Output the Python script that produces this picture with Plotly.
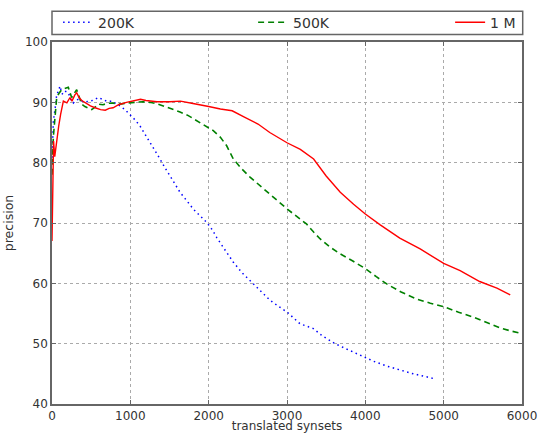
import plotly.graph_objects as go

# ---- data ----
x_200k = [0, 17, 40, 60, 80, 102, 125, 144, 175, 208, 240, 272, 300, 336, 380, 430, 485, 540, 591, 650,
          698, 762, 820, 868, 930, 996, 1060, 1123, 1190, 1251, 1315, 1379, 1440, 1506, 1570, 1634, 1720,
          1804, 1890, 1975, 2050, 2102, 2200, 2315, 2430, 2549, 2660, 2783, 2890, 3004, 3166, 3336, 3450,
          3613, 3780, 3932, 4102, 4270, 4443, 4613, 4783, 4877]
y_200k = [80, 86.9, 89, 91.3, 91.8, 92.7, 91.5, 91.3, 91.8, 91.6, 90.5, 89.9, 90.3, 90.5, 90.2, 90.1, 90.2,
          90.4, 90.8, 90.5, 90.2, 90.2, 89.8, 89.4, 88.8, 88.0, 87.1, 86.1, 84.7, 83.3, 82.0, 80.6, 79.2,
          77.8, 76.4, 75.1, 73.7, 72.3, 71.2, 70.1, 68.8, 67.6, 65.7, 63.5, 61.7, 60.2, 58.7, 57.2, 56.2,
          55.2, 53.3, 52.5, 51.3, 50.0, 49.0, 48.1, 47.1, 46.3, 45.6, 45.0, 44.5, 44.2]

x_500k = [0, 17, 38, 60, 90, 124, 160, 208, 251, 290, 315, 350, 379, 420, 464, 507, 550, 591, 650, 700,
          762, 868, 960, 1081, 1160, 1251, 1330, 1421, 1530, 1634, 1740, 1847, 1960, 2059, 2150, 2230,
          2315, 2420, 2528, 2640, 2741, 2870, 3004, 3130, 3252, 3340, 3421, 3550, 3677, 3840, 4005, 4140,
          4273, 4450, 4656, 4830, 5008, 5190, 5379, 5550, 5719, 5860, 5996]
y_500k = [78, 84.2, 87.5, 90.8, 91.5, 92.1, 92.3, 92.5, 90.8, 91.5, 92.1, 90.8, 89.7, 89.3, 89.1, 88.8,
          89.2, 89.7, 89.6, 89.8, 89.9, 89.7, 89.9, 90.05, 90.1, 90.0, 89.8, 89.4, 88.9, 88.4, 87.8, 87.0,
          86.1, 85.3, 84.2, 82.8, 80.6, 79.0, 77.6, 76.4, 75.3, 73.8, 72.3, 71.0, 69.8, 68.5, 67.4, 66.0,
          64.9, 63.7, 62.4, 61.1, 59.9, 58.6, 57.4, 56.7, 56.1, 55.2, 54.4, 53.5, 52.6, 52.1, 51.7]

x_1m = [0, 10, 20, 35, 50, 65, 85, 110, 145, 190, 230, 255, 290, 315, 345, 380, 430, 490, 550, 620, 680,
        730, 780, 850, 950, 1050, 1130, 1200, 1340, 1500, 1640, 1800, 1900, 2000, 2150, 2300, 2450, 2630,
        2780, 2900, 3000, 3170, 3340, 3500, 3680, 3850, 4000, 4190, 4440, 4700, 5000, 5210, 5460, 5680, 5850]
y_1m = [67, 78, 83.6, 81, 82.8, 84.5, 86, 88, 90.2, 89.9, 90.8, 90.2, 91.2, 91.6, 90.8, 90.3, 89.9, 89.4,
        89.1, 88.8, 88.7, 89.0, 89.1, 89.6, 90.0, 90.3, 90.5, 90.3, 90.1, 90.1, 90.2, 89.8, 89.6, 89.3,
        88.9, 88.6, 87.6, 86.4, 85.0, 84.0, 83.3, 82.2, 80.6, 77.8, 75.1, 73.1, 71.5, 69.7, 67.5, 65.7,
        63.3, 62.1, 60.3, 59.2, 58.1]

x_ticks = [0, 1000, 2000, 3000, 4000, 5000, 6000]
y_ticks = [40, 50, 60, 70, 80, 90, 100]

FONT = "DejaVu Sans"
TXT = "#333333"
AX = "#666666"

fig = go.Figure()
fig.add_trace(go.Scatter(x=x_200k, y=y_200k, mode="lines", name="200K",
                         line=dict(color="#0000ff", width=1.5, dash="1.5px,3.5px"), legendwidth=150))
fig.add_trace(go.Scatter(x=x_500k, y=y_500k, mode="lines", name="500K",
                         line=dict(color="#008000", width=1.6, dash="6px,4px"), legendwidth=152))
fig.add_trace(go.Scatter(x=x_1m, y=y_1m, mode="lines", name="1 M",
                         line=dict(color="#ff0000", width=1.4)))

axis_common = dict(
    showline=True, linecolor=AX, linewidth=1.5, mirror="allticks",
    ticks="inside", ticklen=4, tickcolor=AX, tickwidth=1,
    showgrid=True, gridcolor="#aaaaaa", gridwidth=1, griddash="dot",
    zeroline=False, automargin=False, tickfont=dict(family=FONT, size=12, color=TXT),
)

fig.update_xaxes(range=[0, 6000], tickvals=x_ticks, ticktext=[str(v) for v in x_ticks],
                 title=dict(text="translated synsets", font=dict(family=FONT, size=12, color=TXT), standoff=7),
                 **axis_common)
fig.update_yaxes(range=[40, 100], tickvals=y_ticks, ticktext=[str(v) for v in y_ticks],
                 title=dict(text="precision", font=dict(family=FONT, size=12.5, color=TXT), standoff=9),
                 **axis_common)

# legend frame (matplotlib-style expanded legend box above the axes)
fig.add_shape(type="rect", xref="paper", yref="paper", x0=0, x1=1.0015, y0=1.0204, y1=1.0847,
              line=dict(color=AX, width=1.5), fillcolor="white", layer="below")

fig.update_layout(
    width=538, height=433,
    margin=dict(l=52, r=16, t=42, b=29),
    paper_bgcolor="white", plot_bgcolor="white",
    font=dict(family=FONT, color=TXT),
    legend=dict(orientation="h", x=0.013, xanchor="left", xref="paper",
                y=1 - 22.7 / 433, yanchor="middle", yref="container",
                bgcolor="rgba(0,0,0,0)", borderwidth=0,
                font=dict(family=FONT, size=14, color=TXT), itemwidth=30),
    showlegend=True,
)

fig.write_html("out.html", config={"displayModeBar": False},
               post_script="document.body.style.margin='0';document.body.style.padding='0';")
